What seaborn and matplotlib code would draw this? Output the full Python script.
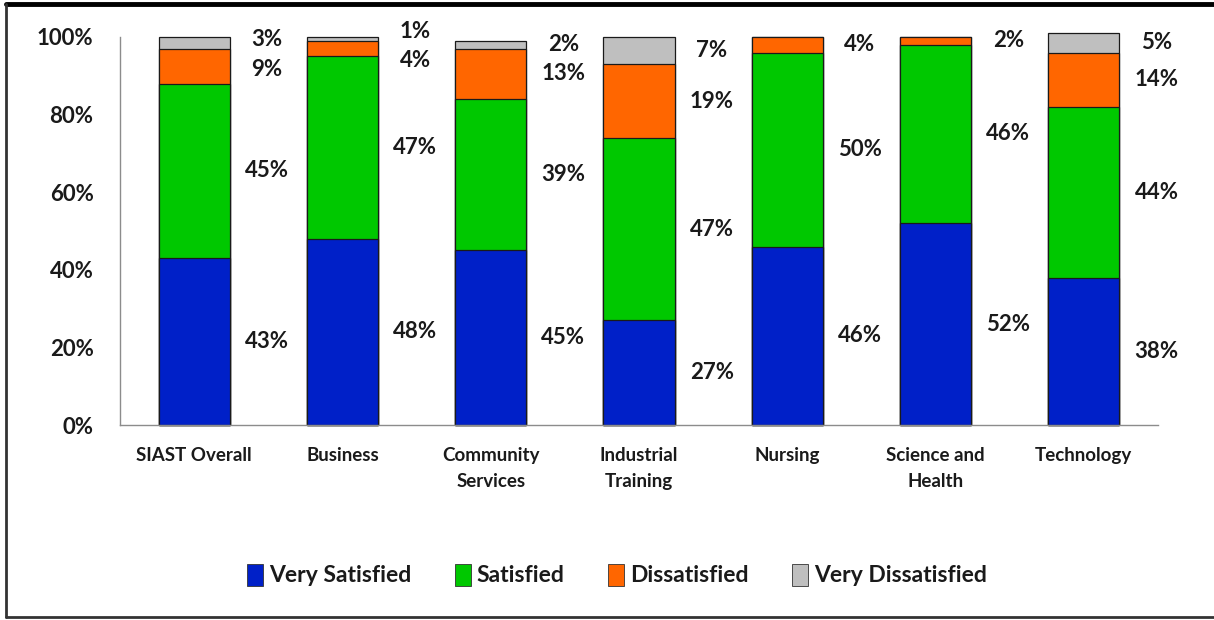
import numpy as np
import matplotlib
matplotlib.use("Agg")
import matplotlib.pyplot as plt
from matplotlib.patches import Patch
from matplotlib.lines import Line2D
import seaborn as sns

categories = ["SIAST Overall", "Business", "Community\nServices", "Industrial\nTraining",
              "Nursing", "Science and\nHealth", "Technology"]
very_satisfied = [43, 48, 45, 27, 46, 52, 38]
satisfied = [45, 47, 39, 47, 50, 46, 44]
dissatisfied = [9, 4, 13, 19, 4, 2, 14]
very_dissatisfied = [3, 1, 2, 7, 0, 0, 5]
series_names = ["Very Satisfied", "Satisfied", "Dissatisfied", "Very Dissatisfied"]
series_colors = ["#0020C8", "#00C800", "#FF6600", "#BFBFBF"]
y_ticks = [0, 20, 40, 60, 80, 100]

sns.set_theme(style="white")
plt.rcParams["font.family"] = ["Lato", "DejaVu Sans"]
plt.rcParams["font.weight"] = "bold"

fig = plt.figure(figsize=(12.14, 6.2), dpi=100)
ax = fig.add_axes([120 / 1214, 1 - 425 / 620, (1158 - 120) / 1214, (425 - 37) / 620])

layers = [very_satisfied, satisfied, dissatisfied, very_dissatisfied]
cum = np.cumsum(np.array(layers, dtype=float), axis=0)

# stacked bars: draw cumulative totals from the top layer down
for k in range(len(layers) - 1, -1, -1):
    sns.barplot(x=categories, y=cum[k], color=series_colors[k], width=0.48,
                edgecolor="#1a1a1a", linewidth=0.9, saturation=1, ax=ax)
for p in ax.patches:
    p.set_clip_on(False)

# value labels to the right of each bar, nudged apart when crowded
lab_x_off = 0.49
for i in range(len(categories)):
    pos = []
    for k in range(len(layers)):
        v = layers[k][i]
        base = cum[k][i] - v
        pos.append(base + v / 2)
    if layers[3][i] > 0:
        gap = pos[3] - pos[2]
        if gap < 7.5:
            d = (7.5 - gap) / 2
            pos[2] -= d
            pos[3] += d
        if pos[3] > 101.5:
            pos[2] -= pos[3] - 101.5
            pos[3] = 101.5
    for k in range(len(layers)):
        v = layers[k][i]
        if v == 0:
            continue
        ax.text(i + lab_x_off, pos[k], f"{v}%", ha="center", va="center",
                fontsize=16, fontweight="bold", color="#1a1a1a")

ax.set_ylim(0, 100)
ax.set_xlim(-0.5, len(categories) - 0.5)
ax.set_yticks(y_ticks)
ax.set_yticklabels([f"{t}%" for t in y_ticks], fontsize=16, fontweight="bold", color="#1a1a1a")
ax.tick_params(axis="y", length=0, pad=19)
ax.tick_params(axis="x", length=0, pad=16, labelsize=13.5, labelcolor="#1a1a1a")
for lab in ax.get_xticklabels():
    lab.set_fontweight("bold")
    lab.set_linespacing(1.6)
ax.set_xlabel("")
ax.set_ylabel("")
for s in ["top", "right"]:
    ax.spines[s].set_visible(False)
for s in ["left", "bottom"]:
    ax.spines[s].set_color("#8c8c8c")
    ax.spines[s].set_linewidth(1.0)
ax.grid(False)

handles = [Patch(facecolor=c, edgecolor="#333333", linewidth=0.6) for c in series_colors]
leg = fig.legend(handles, series_names, loc="center", bbox_to_anchor=(617 / 1214, 1 - 575 / 620),
                 ncol=4, frameon=False, handlelength=0.7, handleheight=1.1,
                 handletextpad=0.25, columnspacing=1.9,
                 prop={"weight": "bold", "size": 16.5})
for t in leg.get_texts():
    t.set_fontweight("bold")
    t.set_color("#1a1a1a")

# outer chart border
fig.add_artist(Line2D([6 / 1214, 1.0], [1 - 4 / 620, 1 - 4 / 620], transform=fig.transFigure,
                      color="black", linewidth=3.5))
fig.add_artist(Line2D([6 / 1214, 6 / 1214], [1 - 4 / 620, 1 - 617 / 620], transform=fig.transFigure,
                      color="#333333", linewidth=2.0))
fig.add_artist(Line2D([6 / 1214, 1.0], [1 - 617 / 620, 1 - 617 / 620], transform=fig.transFigure,
                      color="#333333", linewidth=2.0))

fig.savefig("out.png", dpi=100)
